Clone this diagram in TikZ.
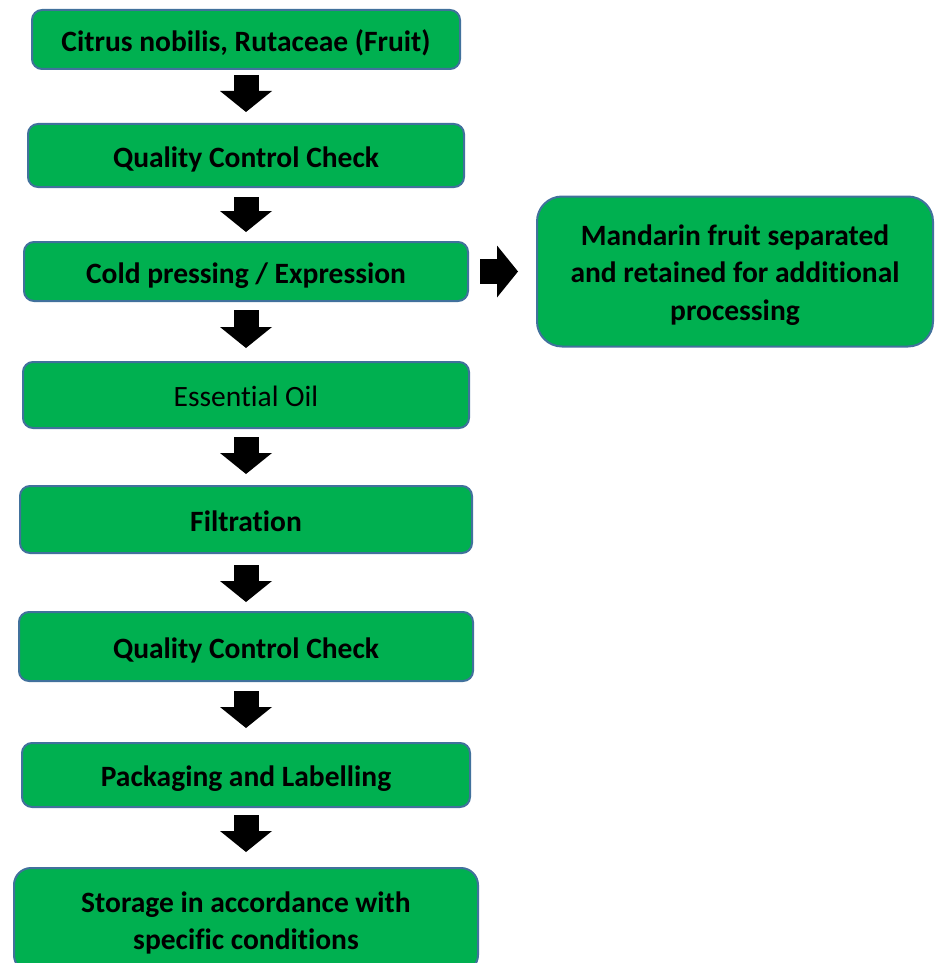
\documentclass[tikz,border=0pt]{standalone}
\usepackage{fontspec}
\setmainfont{Carlito}[Ligatures=NoCommon]
\usetikzlibrary{arrows.meta}
\definecolor{boxgreen}{HTML}{00B050}
\definecolor{boxline}{HTML}{41719C}
\def\boxfont{\fontsize{29.5}{37.5}\selectfont}
\def\topstrut{\rule{0pt}{1.0em}}
\tikzset{
  stepbox/.style={draw=boxline, line width=2pt, fill=boxgreen, rounded corners=10pt,
    align=center, inner sep=0pt, font=\boxfont\bfseries,
    execute at begin node={\rule{0pt}{1.03em}},
    execute at end node={\rule[-0.25em]{0pt}{0pt}}},
  flowarrow/.style={line width=25pt, black,
    -{Triangle[width=52pt,length=21pt,line width=0pt]}},
}

\begin{document}
\begin{tikzpicture}[x=1pt, y=-1pt]
  \useasboundingbox (0,0) rectangle (940,963);
  \clip (0,0) rectangle (940,963);

  % main column
  \node[stepbox, minimum width=428pt, minimum height=59pt] (citrus) at (246,39.5) {Citrus nobilis, Rutaceae (Fruit)};
  \node[stepbox, minimum width=436pt, minimum height=63pt] (qcfirst) at (246,155.5) {Quality Control Check};
  \node[stepbox, minimum width=444pt, minimum height=59pt] (cold) at (246,271.5) {Cold pressing / Expression};
  \node[stepbox, minimum width=446pt, minimum height=66pt, font=\boxfont] (oil) at (246,395) {Essential Oil};
  \node[stepbox, minimum width=452pt, minimum height=67pt] (filter) at (246,519.5) {Filtration};
  \node[stepbox, minimum width=454pt, minimum height=69pt] (qcsecond) at (246,646.5) {Quality Control Check};
  \node[stepbox, minimum width=448pt, minimum height=64pt] (pack) at (246,775) {Packaging and Labelling};
  \node[stepbox, minimum width=464pt, minimum height=104pt, rounded corners=17pt] (store) at (246,920) {\topstrut Storage in accordance with\\specific conditions};

  % side branch
  \node[stepbox, minimum width=396pt, minimum height=150pt, rounded corners=25pt] (side) at (735,271.5) {\topstrut Mandarin fruit separated\\and retained for additional\\processing};

  % block arrows
  \draw[flowarrow, shorten <=5pt, shorten >=11pt] (citrus) -- (qcfirst);
  \draw[flowarrow, shorten <=9pt, shorten >=9pt] (qcfirst) -- (cold);
  \draw[flowarrow, shorten <=8pt, shorten >=13pt] (cold) -- (oil);
  \draw[flowarrow, shorten <=8pt, shorten >=11pt] (oil) -- (filter);
  \draw[flowarrow, shorten <=11pt, shorten >=9pt] (filter) -- (qcsecond);
  \draw[flowarrow, shorten <=9pt, shorten >=14pt] (qcsecond) -- (pack);
  \draw[flowarrow, shorten <=7pt, shorten >=15pt] (pack) -- (store);
  \draw[flowarrow, shorten <=11pt, shorten >=18pt] (cold) -- (side);

\end{tikzpicture}
\end{document}
